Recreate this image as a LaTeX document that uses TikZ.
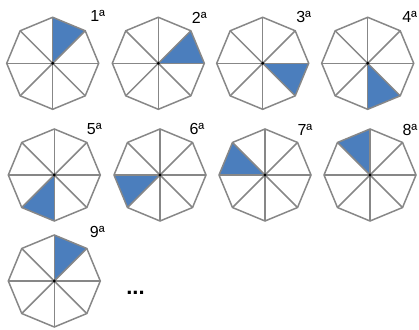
\documentclass[tikz,border=0pt]{standalone}
\usepackage{fontspec}
\setmainfont{Liberation Sans}
\definecolor{octblue}{RGB}{75,126,189}
\definecolor{octgray}{RGB}{135,135,135}
\newcommand{\drawoct}[6]{%
  \begin{scope}[shift={(#1,#2)}]
    \fill[octblue] (0,0) -- ({90-45*(#3-1)}:46) -- ({90-45*#3}:46) -- cycle;
    \draw[edge] (0:46) -- (45:46) -- (90:46) -- (135:46) -- (180:46) -- (225:46) -- (270:46) -- (315:46) -- cycle;
    \foreach \a in {0,45,...,315} \draw[edge] (0,0) -- (\a:46);
    \fill (0,0) circle (1.6);
    \node[lbl] (lbl#3#4) at (#5,#6) {#4ª};
  \end{scope}}
\begin{document}
\begin{tikzpicture}[x=1pt,y=1pt,
  edge/.style={draw=octgray,line width=1.5pt,line join=miter},
  lbl/.style={font=\fontsize{16}{16}\selectfont,inner sep=0pt}]
\useasboundingbox (0,0) rectangle (419,329);
\drawoct{52.7}{265.7}{1}{1}{45}{47}
\drawoct{158.3}{265.7}{2}{2}{41}{45}
\drawoct{262.7}{265.7}{3}{3}{41}{46}
\drawoct{367.7}{265.7}{4}{4}{42}{46}
\drawoct{54.3}{154}{5}{5}{40}{46}
\drawoct{160}{154}{6}{6}{37}{46}
\drawoct{265}{154}{7}{7}{40}{45}
\drawoct{370}{154}{8}{8}{40}{45}
\drawoct{54.3}{48}{1}{9}{43}{49}
\node[font=\fontsize{22}{22}\selectfont\bfseries,inner sep=0pt] (dots) at (135.5,36) {...};
\end{tikzpicture}
\end{document}
